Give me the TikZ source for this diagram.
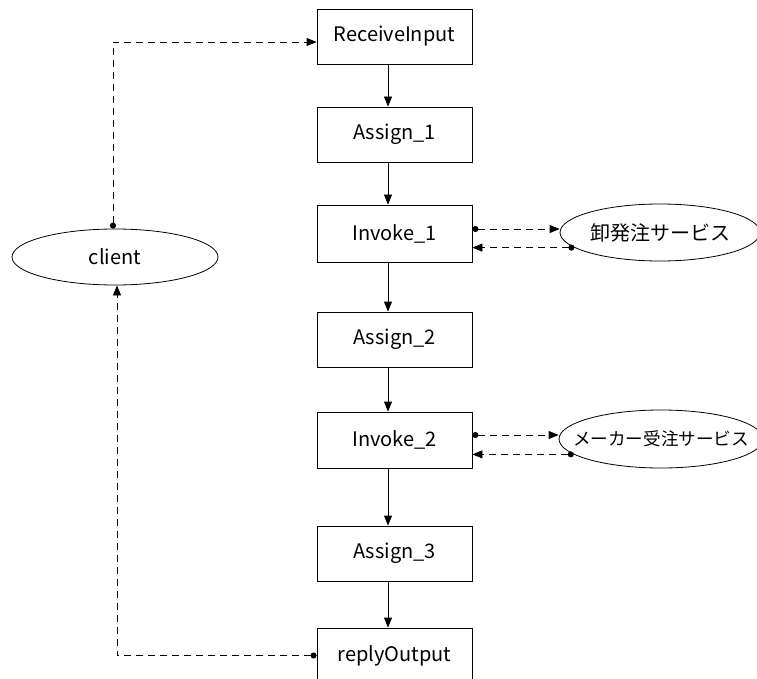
\documentclass[tikz,border=0pt]{standalone}
\usepackage{fontspec}
\newfontfamily\jpfont{Noto Sans CJK JP}
\usetikzlibrary{arrows.meta,shapes.geometric}
\begin{document}
\begin{tikzpicture}[x=1pt,y=-1pt,
  every node/.style={font=\jpfont\fontsize{20}{22}\selectfont},
  stepbox/.style={draw,line width=0.8pt,minimum width=155pt,minimum height=55pt,inner sep=0pt},
  service/.style={draw,ellipse,line width=0.8pt,inner sep=0pt},
  flow/.style={-{Triangle[length=10pt,width=8pt]},line width=0.8pt},
  msg/.style={{Circle[length=6pt]}-{Triangle[length=10pt,width=8pt]},
              dash pattern=on 7pt off 5pt,line width=0.8pt}]
\useasboundingbox (0,0) rectangle (757,679);

% process steps
\node[stepbox] (rin)  at (394.5,36.5)  {ReceiveInput};
\node[stepbox] (a1)   at (394.5,134.5) {Assign\_1};
\node[stepbox,minimum height=57pt] (i1) at (394.5,233.5) {Invoke\_1};
\node[stepbox] (a2)   at (394.5,339.5) {Assign\_2};
\node[stepbox,minimum height=56pt] (i2) at (394.5,440) {Invoke\_2};
\node[stepbox] (a3)   at (394.5,553.5) {Assign\_3};
\node[stepbox] (rout) at (394.5,655.5) {replyOutput};

% partners (text set in zero-width boxes so the ellipses keep their given size)
\node[service,minimum width=206pt,minimum height=56pt] (client) at (115,257) {\makebox[0pt]{client}};
\node[service,minimum width=200pt,minimum height=57pt] (s1) at (660,232.5) {\makebox[0pt]{卸発注サービス}};
\node[service,minimum width=204pt,minimum height=58pt] (s2) at (661,439)
  {\makebox[0pt]{\fontsize{17.6}{22}\selectfont メーカー受注サービス}};

% control flow
\foreach \u/\v in {rin/a1,a1/i1,i1/a2,a2/i2,i2/a3,a3/rout}
  \draw[flow] ([xshift=-6.5pt]\u.south) -- ([xshift=-6.5pt]\v.north);

% message exchanges
\draw[msg] ([xshift=-2pt]client.north) |- ([yshift=-5.5pt]rin.west);
\draw[msg] (rout.west) -| ([xshift=2pt]client.south);

\draw[msg] ([yshift=4.5pt]i1.east) -- ([yshift=4.5pt]i1.east -| s1.west);
\draw[msg] (s1.190) -- (s1.190 -| i1.east);

\draw[msg] ([yshift=5pt]i2.east) -- ([yshift=5pt]i2.east -| s2.west);
\draw[msg] (s2.190) -- (s2.190 -| i2.east);
\end{tikzpicture}
\end{document}
